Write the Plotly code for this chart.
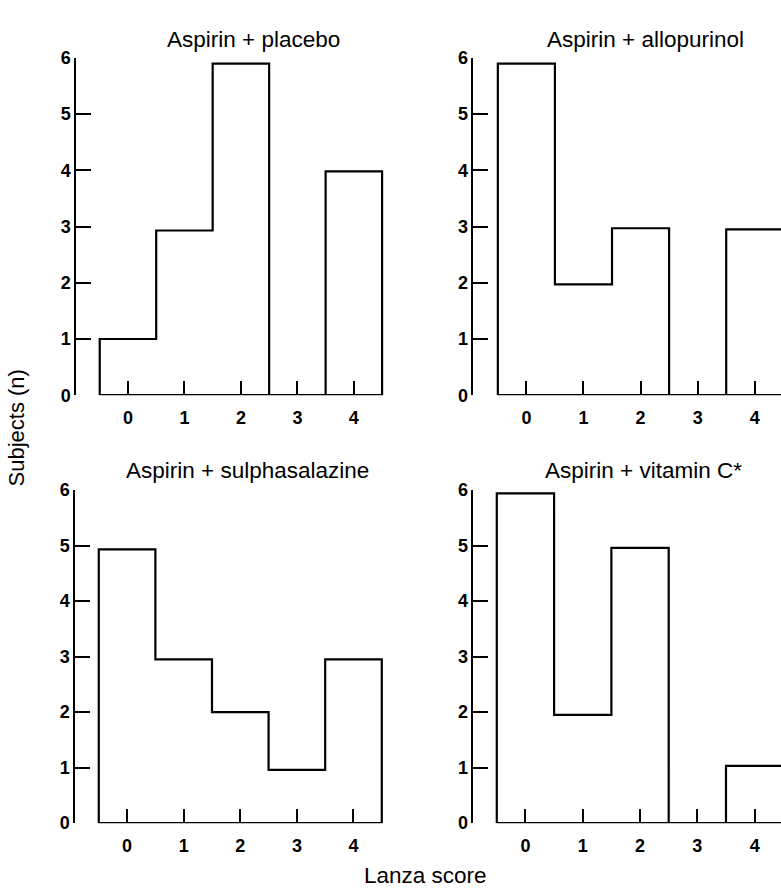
import plotly.graph_objects as go

W, H = 781, 896

# Data
scores = [0, 1, 2, 3, 4]
panel_titles = ["Aspirin + placebo", "Aspirin + allopurinol",
                "Aspirin + sulphasalazine", "Aspirin + vitamin C*"]
placebo = [1, 2.93, 5.9, 0, 3.98]
allopurinol = [5.9, 1.97, 2.97, 0, 2.95]
sulphasalazine = [4.93, 2.95, 2.0, 0.96, 2.95]
vitamin_c = [5.94, 1.95, 4.96, 0, 1.03]
series = [placebo, allopurinol, sulphasalazine, vitamin_c]
y_ticks = [0, 1, 2, 3, 4, 5, 6]
x_title = "Lanza score"
y_title = "Subjects (n)"

FONT = "Liberation Sans, Arial, sans-serif"

# panel pixel layout: (left, right, top, bottom), x range
panels = [
    dict(l=76, r=390, t=49, b=394, xr=[-0.92, 4.64]),
    dict(l=473.3, r=781, t=49, b=394, xr=[-0.93, 4.46]),
    dict(l=75, r=390, t=491, b=831.7, xr=[-0.92, 4.645]),
    dict(l=473.3, r=781, t=491, b=831.7, xr=[-0.91, 4.46]),
]
title_pos = [(253, 30), (645, 30), (247, 471), (643, 471)]

fig = go.Figure()
for i, (vals, p) in enumerate(zip(series, panels)):
    n = i + 1
    xa = "x" if n == 1 else f"x{n}"
    ya = "y" if n == 1 else f"y{n}"
    # step outline of the histogram
    edges = [s - 0.5 for s in scores] + [scores[-1] + 0.5]
    xs = [edges[0]] + edges + [edges[-1], edges[0]]
    ys = [0] + list(vals) + [vals[-1], 0, 0]
    fig.add_trace(go.Scatter(x=xs, y=ys, mode="lines", line_shape="hv",
                             line=dict(color="black", width=2.2),
                             xaxis=xa, yaxis=ya, showlegend=False,
                             hoverinfo="skip"))
    xkey = "xaxis" if n == 1 else f"xaxis{n}"
    ykey = "yaxis" if n == 1 else f"yaxis{n}"
    fig.layout[xkey] = dict(
        domain=[p["l"] / W, min(p["r"] / W, 1.0)], range=p["xr"],
        anchor=ya, showgrid=False, zeroline=False, showline=False,
        tickmode="array", tickvals=scores, ticktext=[str(s) for s in scores],
        ticks="inside", ticklen=14, tickwidth=1.5, tickcolor="black",
        ticklabelstandoff=10,
        tickfont=dict(family=FONT, size=18, color="black", weight="bold"),
        fixedrange=True)
    fig.layout[ykey] = dict(
        domain=[1 - p["b"] / H, 1 - p["t"] / H], range=[0, 6],
        anchor=xa, showgrid=False, zeroline=False, showline=True,
        linecolor="black", linewidth=1.5,
        tickmode="array", tickvals=y_ticks,
        ticks="inside", ticklen=15, tickwidth=1.5, tickcolor="black",
        tickfont=dict(family=FONT, size=18, color="black", weight="bold"),
        fixedrange=True)
    tx, ty = title_pos[i]
    fig.add_annotation(text=panel_titles[i], x=tx / W, y=1 - ty / H,
                       xref="paper", yref="paper", showarrow=False,
                       xanchor="center", yanchor="middle",
                       font=dict(family=FONT, size=22.5, color="black"))

fig.add_annotation(text=x_title, x=425 / W, y=1 - 885 / H, xref="paper", yref="paper",
                   showarrow=False, xanchor="center", yanchor="middle",
                   font=dict(family=FONT, size=22.5, color="black"))
fig.add_annotation(text=y_title, x=16 / W, y=1 - 428 / H, xref="paper", yref="paper",
                   showarrow=False, xanchor="center", yanchor="middle", textangle=-90,
                   font=dict(family=FONT, size=22, color="black"))

fig.update_layout(width=W, height=H, margin=dict(l=0, r=0, t=0, b=0),
                  paper_bgcolor="white", plot_bgcolor="white")
fig.write_html("out.html", config={"displayModeBar": False},
               post_script="document.body.style.margin='0';document.body.style.overflow='hidden';")
